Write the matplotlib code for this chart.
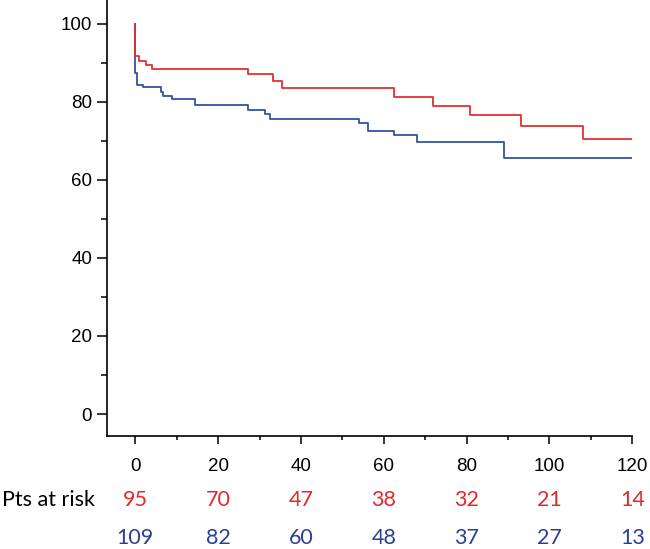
import matplotlib
matplotlib.use("Agg")
import matplotlib.pyplot as plt
from matplotlib.ticker import MultipleLocator
import matplotlib.transforms as mtransforms

# Kaplan-Meier steps (months, % survival)
red_t = [0, 0, 1.0, 2.7, 4.0, 27.1, 33.2, 35.4, 62.5, 72.0, 80.8, 93.1, 108.0, 120]
red_s = [100, 91.8, 90.6, 89.5, 88.4, 87.1, 85.4, 83.7, 81.3, 79.0, 76.7, 73.8, 70.5, 70.5]

blue_t = [0, 0, 0.3, 1.9, 6.2, 6.8, 8.8, 14.3, 27.1, 31.2, 32.5, 54.1, 56.3, 62.5, 68.0, 89.0, 120]
blue_s = [100, 87.4, 84.4, 83.8, 82.5, 81.5, 80.8, 79.1, 77.9, 76.8, 75.6, 74.5, 72.6, 71.5, 69.7, 65.6, 65.6]

risk_times = [0, 20, 40, 60, 80, 100, 120]
red_risk = [95, 70, 47, 38, 32, 21, 14]
blue_risk = [109, 82, 60, 48, 37, 27, 13]

red_col = "#e03131"
blue_col = "#3352a3"
red_txt = "#e02a2a"
blue_txt = "#2b3f94"

fig = plt.figure(figsize=(6.5, 5.49), dpi=100)
ax = fig.add_axes([106.7 / 650, 1 - 436 / 549, (632.3 - 106.7) / 650, 436 / 549])

ax.step(blue_t, blue_s, where="post", color=blue_col, lw=1.3)
ax.step(red_t, red_s, where="post", color=red_col, lw=1.3)

ax.set_xlim(-6.9, 120)
ax.set_ylim(-5.64, 106.15)

for s in ["top", "right"]:
    ax.spines[s].set_visible(False)
for s in ["left", "bottom"]:
    ax.spines[s].set_linewidth(1.2)

ax.xaxis.set_major_locator(MultipleLocator(20))
ax.xaxis.set_minor_locator(MultipleLocator(10))
ax.yaxis.set_major_locator(MultipleLocator(20))
ax.yaxis.set_minor_locator(MultipleLocator(10))
ax.tick_params(axis="x", which="major", direction="out", length=6, width=1.1, pad=10)
ax.tick_params(axis="x", which="minor", direction="out", length=3, width=1.1)
ax.tick_params(axis="y", which="major", direction="out", length=7.5, width=1.1, pad=3)
ax.tick_params(axis="y", which="minor", direction="out", length=4, width=1.1)
for lab in ax.get_xticklabels() + ax.get_yticklabels():
    lab.set_fontfamily("Liberation Sans")
    lab.set_fontsize(13.5)

# numbers at risk under the axis
trans = mtransforms.blended_transform_factory(ax.transData, fig.transFigure)
for t, r, b in zip(risk_times, red_risk, blue_risk):
    ax.text(t, 1 - 500 / 549, str(r), transform=trans, ha="center", va="center",
            color=red_txt, fontsize=15.5, fontfamily="Lato", clip_on=False)
    ax.text(t, 1 - 538 / 549, str(b), transform=trans, ha="center", va="center",
            color=blue_txt, fontsize=15.5, fontfamily="Lato", clip_on=False)
fig.text(2 / 650, 1 - 500 / 549, "Pts at risk", ha="left", va="center",
         fontsize=15.5, fontfamily="Lato", color="black")

fig.savefig("out.png", dpi=100)
